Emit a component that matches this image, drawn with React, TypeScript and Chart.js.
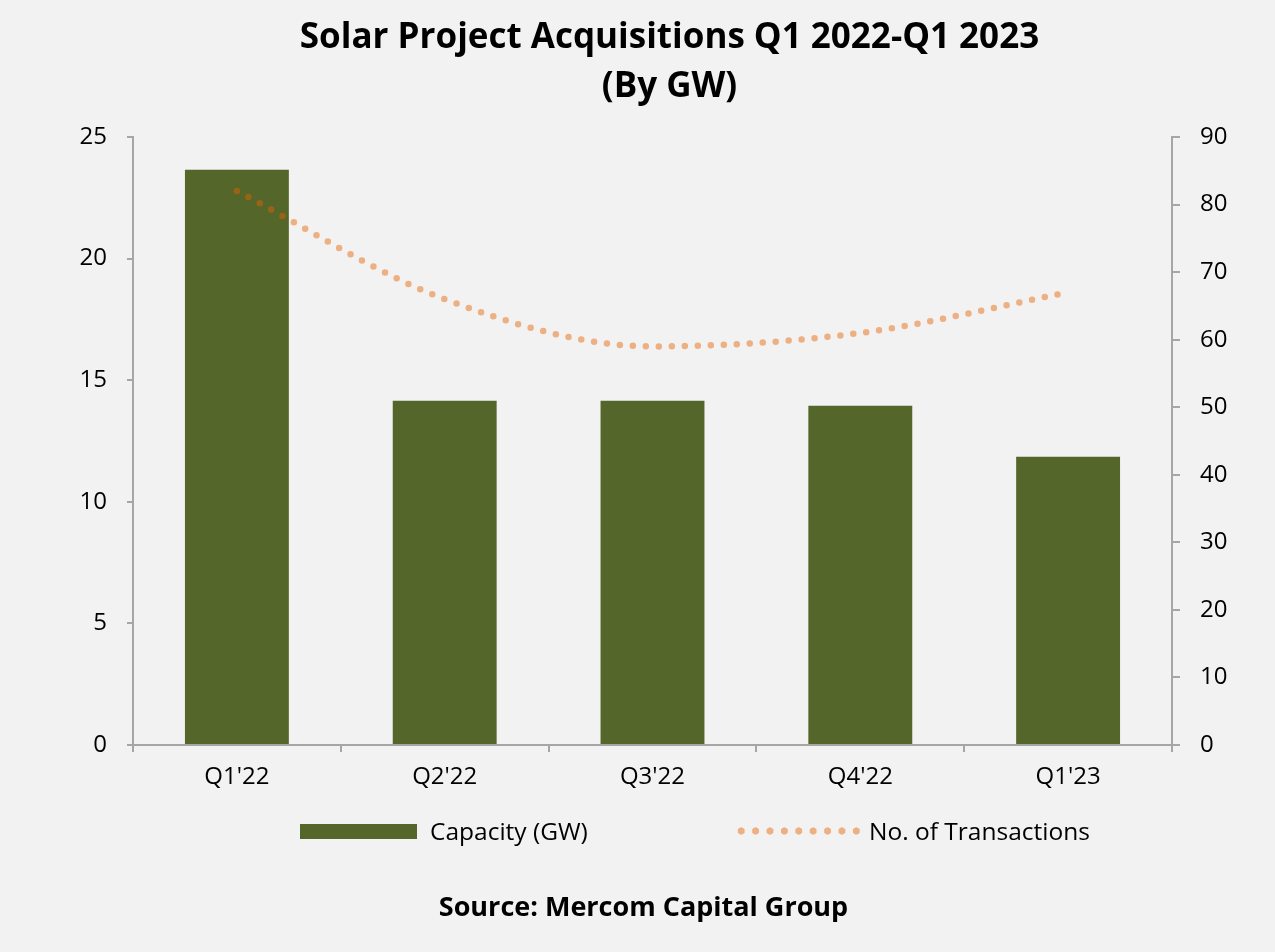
import React, { useEffect, useRef } from "react"
import { Chart, registerables } from "chart.js"

Chart.register(...registerables)

const quarters = ["Q1'22", "Q2'22", "Q3'22", "Q4'22", "Q1'23"]
const capacityGW = [23.65, 14.15, 14.15, 13.95, 11.85]
const transactions = [82, 66, 59, 61, 67]

const titleLines = ["Solar Project Acquisitions Q1 2022-Q1 2023", "(By GW)"]
const sourceText = "Source: Mercom Capital Group"
const barLegend = "Capacity (GW)"
const lineLegend = "No. of Transactions"

const BAR_COLOR = "#546629"
const LINE_COLOR = "rgba(232, 98, 0, 0.46)"
const AXIS_COLOR = "#a6a6a6"
const FONT = "'Open Sans', Lato, sans-serif"

const App: React.FC = () => {
  const canvasRef = useRef<HTMLCanvasElement>(null)
  const chartRef = useRef<Chart>()

  useEffect(() => {
    if (!canvasRef.current) return
    if (chartRef.current) chartRef.current.destroy()
    const ctx = canvasRef.current.getContext("2d")
    if (!ctx) return

    chartRef.current = new Chart(ctx, {
      type: "bar",
      data: {
        labels: quarters,
        datasets: [
          {
            type: "line",
            label: lineLegend,
            data: transactions,
            yAxisID: "y1",
            order: 0,
            borderColor: LINE_COLOR,
            borderWidth: 6.5,
            borderDash: [0, 13],
            borderCapStyle: "round",
            cubicInterpolationMode: "monotone",
            pointRadius: 0,
            fill: false,
          },
          {
            type: "bar",
            label: barLegend,
            data: capacityGW,
            yAxisID: "y",
            order: 1,
            backgroundColor: BAR_COLOR,
            categoryPercentage: 0.5,
            barPercentage: 1,
          },
        ],
      },
      options: {
        responsive: false,
        animation: false,
        layout: { padding: { top: 137, left: 0, right: 0, bottom: 0 } },
        plugins: {
          legend: { display: false },
          tooltip: { enabled: false },
          title: { display: false },
        },
        scales: {
          x: {
            grid: {
              drawOnChartArea: false,
              color: AXIS_COLOR,
              lineWidth: 2,
              tickLength: 7,
              offset: true,
            },
            border: { color: AXIS_COLOR, width: 2 },
            ticks: {
              color: "#000",
              font: { family: FONT, size: 24 },
              padding: 11,
            },
            afterFit: (scale: any) => {
              scale.height = 207
            },
          },
          y: {
            position: "left",
            min: 0,
            max: 25,
            grid: {
              drawOnChartArea: false,
              color: AXIS_COLOR,
              lineWidth: 2,
              tickLength: 6,
            },
            border: { color: AXIS_COLOR, width: 2 },
            ticks: {
              stepSize: 5,
              color: "#000",
              font: { family: FONT, size: 24 },
              padding: 20,
            },
            afterFit: (scale: any) => {
              scale.width = 133
            },
          },
          y1: {
            position: "right",
            min: 0,
            max: 90,
            grid: {
              drawOnChartArea: false,
              color: AXIS_COLOR,
              lineWidth: 2,
              tickLength: 8,
            },
            border: { color: AXIS_COLOR, width: 2 },
            ticks: {
              stepSize: 10,
              color: "#000",
              font: { family: FONT, size: 24 },
              padding: 20,
            },
            afterFit: (scale: any) => {
              scale.width = 103
            },
          },
        },
      },
    })

    return () => {
      if (chartRef.current) chartRef.current.destroy()
    }
  }, [])

  const textStyle: React.CSSProperties = {
    position: "absolute",
    left: 0,
    width: 1275,
    textAlign: "center",
    fontFamily: FONT,
    color: "#000",
  }

  const legendText: React.CSSProperties = {
    position: "absolute",
    top: 815,
    fontFamily: FONT,
    fontSize: 24.5,
    lineHeight: "32px",
    color: "#000",
    whiteSpace: "nowrap",
  }

  return (
    <div
      style={{
        position: "absolute",
        top: 0,
        left: 0,
        width: 1275,
        height: 952,
        background: "#f2f2f2",
        overflow: "hidden",
      }}
    >
      <canvas
        ref={canvasRef}
        width={1275}
        height={952}
        style={{ position: "absolute", top: 0, left: 0 }}
      />
      {titleLines.map((line, i) => (
        <div
          key={i}
          style={{
            ...textStyle,
            left: 32,
            top: 11 + i * 49,
            fontSize: 35,
            fontWeight: 700,
            lineHeight: "48px",
          }}
        >
          {line}
        </div>
      ))}
      <span
        style={{
          position: "absolute",
          top: 824,
          left: 300,
          width: 117,
          height: 15,
          background: BAR_COLOR,
        }}
      />
      <span style={{ ...legendText, left: 430 }}>{barLegend}</span>
      <span
        style={{
          position: "absolute",
          top: 827,
          left: 734,
          width: 128,
          height: 8,
          backgroundImage: `radial-gradient(circle, ${LINE_COLOR} 3.3px, transparent 3.9px)`,
          backgroundSize: "14.4px 8px",
          backgroundRepeat: "repeat-x",
        }}
      />
      <span style={{ ...legendText, left: 869 }}>{lineLegend}</span>
      <div
        style={{
          ...textStyle,
          left: 6,
          top: 887,
          fontSize: 27,
          fontWeight: 700,
          lineHeight: "38px",
        }}
      >
        {sourceText}
      </div>
    </div>
  )
}

export default App
